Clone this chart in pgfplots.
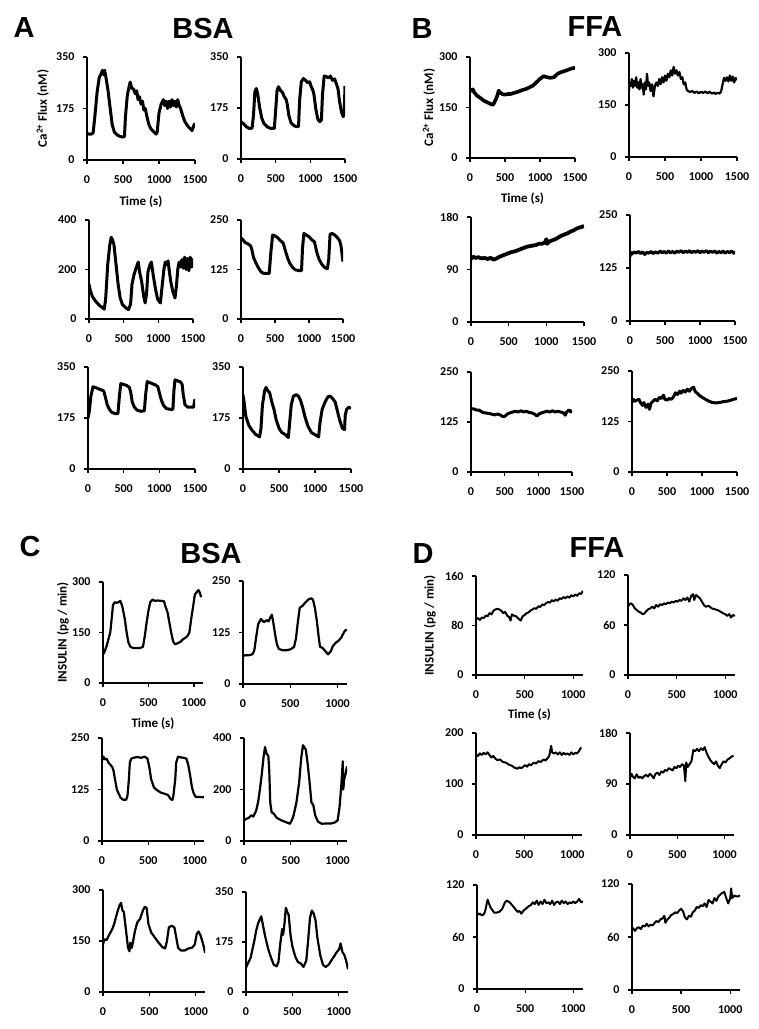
\documentclass[border=0pt]{standalone}
\usepackage{fontspec}
\usepackage{pgfplots}
\pgfplotsset{compat=1.18}
\setmainfont{Carlito}
\newfontfamily\arialf{Liberation Sans}
\newcommand\tickfont{\fontsize{12}{13}\selectfont\bfseries}
\newcommand\labfont{\fontsize{13}{15}\selectfont\bfseries}
\newcommand\bigfont{\fontsize{29}{32}\selectfont\arialf\bfseries}
\pgfplotsset{
 base/.style={
  scale only axis, anchor=south west, xmin=0, ymin=0,
  axis x line*=bottom, axis y line*=left,
  axis line style={black, line width=1.7pt},
  tick align=outside, major tick length=4pt,
  every tick/.style={black, line width=1.3pt},
  tick label style={font=\tickfont},
  xticklabel style={yshift=-8pt},
  yticklabel style={xshift=-5pt},
  scaled ticks=false,
  /pgf/number format/1000 sep={},
  /pgf/number format/assume math mode=true,
  xlabel style={font=\labfont, at={(axis description cs:0.5,-0.40)}, anchor=center},
 }
}
\def\lw{2.6pt}
% x0, x1, ytop, ybot, xmax, ymax, ymid, extra options, coordinates
\newcommand{\panel}[9]{%
 \pgfmathsetmacro{\pw}{#2-#1}\pgfmathsetmacro{\ph}{#4-#3}%
 \begin{axis}[base, at={(#1pt,-#4pt)}, width=\pw pt, height=\ph pt,
   xmax=#5, ymax=#6, xtick={0,500,...,#5}, ytick={0,#7,#6}, #8]
 \addplot[black, line width=\lw, line join=round] coordinates {#9};
 \end{axis}}
\begin{document}
\begin{tikzpicture}
\path[use as bounding box] (0pt,0pt) rectangle (759pt,-1029pt);
% titles
\node[font=\bigfont, anchor=base, inner sep=0] at (24pt,-37pt) {A};
\node[font=\bigfont, anchor=base, inner sep=0] at (203pt,-38pt) {BSA};
\node[font=\bigfont, anchor=base, inner sep=0] at (422pt,-38pt) {B};
\node[font=\bigfont, anchor=base, inner sep=0] at (595pt,-36pt) {FFA};
\node[font=\bigfont, anchor=base, inner sep=0] at (30pt,-556pt) {C};
\node[font=\bigfont, anchor=base, inner sep=0] at (211pt,-563pt) {BSA};
\node[font=\bigfont, anchor=base, inner sep=0] at (423pt,-563pt) {D};
\node[font=\bigfont, anchor=base, inner sep=0] at (597pt,-557pt) {FFA};

% ---------------- A ----------------
\def\lw{3pt}
\panel{87}{195}{57}{160}{1500}{350}{175}{xlabel={Time (s)}, ylabel={Ca\textsuperscript{2+} Flux (nM)}, ylabel style={font=\labfont, at={(axis description cs:-0.41,0.5)}, anchor=center}}
{(0,90)(30,88)(60,88)(85,92)(110,150)(140,230)(170,280)(200,295)(215,305)(230,290)(245,305)(260,285)(290,240)(320,180)(350,120)(380,95)(420,85)(460,80)(500,78)(520,80)(535,150)(560,220)(590,255)(600,265)(620,245)(650,240)(670,225)(690,235)(710,205)(730,215)(750,190)(770,200)(790,170)(810,175)(830,150)(860,120)(890,105)(930,95)(960,88)(975,95)(1000,160)(1030,190)(1060,205)(1080,185)(1100,200)(1120,175)(1140,200)(1160,180)(1180,205)(1200,185)(1220,200)(1240,180)(1260,205)(1280,185)(1300,175)(1330,150)(1360,130)(1400,115)(1440,105)(1460,100)(1480,115)(1500,125)}
\panel{241}{345}{57}{159}{1500}{350}{175}{}
{(0,128)(40,120)(80,110)(120,105)(160,106)(180,150)(200,230)(220,242)(240,225)(270,175)(300,140)(330,122)(380,110)(430,105)(480,105)(495,150)(520,235)(540,248)(570,235)(600,228)(620,215)(650,205)(665,190)(690,150)(720,125)(760,115)(800,111)(830,112)(845,200)(870,265)(900,276)(930,270)(960,262)(990,265)(1010,250)(1030,240)(1050,225)(1080,170)(1110,135)(1140,128)(1160,135)(1175,220)(1200,285)(1230,283)(1260,278)(1290,285)(1320,270)(1350,275)(1380,255)(1400,240)(1420,200)(1450,160)(1475,145)(1490,170)(1500,250)}
\panel{89}{193}{220}{319}{1500}{400}{200}{}
{(0,140)(20,115)(50,90)(100,70)(150,55)(200,45)(220,40)(240,80)(270,220)(300,300)(320,330)(340,320)(360,300)(390,220)(420,140)(450,85)(480,60)(530,45)(570,38)(600,60)(620,140)(650,180)(690,215)(710,230)(730,190)(760,150)(790,90)(810,65)(830,100)(850,190)(880,220)(900,230)(930,170)(960,120)(990,80)(1030,65)(1050,120)(1080,200)(1100,230)(1120,220)(1140,235)(1160,190)(1180,150)(1210,110)(1240,85)(1260,130)(1280,200)(1300,230)(1320,210)(1340,240)(1360,205)(1380,250)(1400,200)(1420,245)(1440,195)(1460,250)(1480,210)(1500,245)}
\panel{241}{343}{220}{319}{1500}{250}{125}{}
{(0,205)(30,200)(60,193)(100,190)(140,185)(160,175)(185,155)(210,145)(240,135)(260,128)(300,118)(340,115)(380,115)(415,115)(440,170)(465,212)(500,210)(540,205)(580,198)(620,192)(640,180)(660,168)(690,152)(720,140)(760,130)(800,124)(860,122)(890,122)(905,180)(925,216)(960,212)(1000,208)(1040,200)(1080,195)(1100,180)(1120,165)(1150,150)(1190,138)(1230,130)(1270,127)(1290,150)(1310,214)(1340,216)(1380,212)(1420,205)(1450,198)(1470,185)(1485,165)(1500,145)}
\panel{88}{195}{367}{469}{1500}{350}{175}{}
{(0,175)(20,200)(40,250)(70,282)(100,280)(140,276)(180,272)(220,268)(240,250)(270,220)(300,205)(330,195)(380,190)(420,190)(440,250)(460,293)(500,290)(540,287)(580,280)(600,262)(620,230)(650,212)(690,202)(740,198)(790,200)(810,260)(830,300)(870,296)(910,292)(950,288)(980,282)(1000,262)(1030,235)(1060,218)(1100,207)(1150,205)(1190,205)(1205,270)(1220,306)(1260,302)(1300,298)(1320,290)(1335,255)(1360,220)(1400,212)(1440,212)(1480,212)(1500,240)}
\panel{243}{351}{367}{469}{1500}{350}{175}{}
{(0,255)(15,230)(40,180)(80,150)(120,135)(170,120)(230,110)(250,140)(270,220)(300,268)(320,280)(340,270)(370,262)(400,230)(430,205)(460,170)(500,140)(540,125)(590,118)(630,108)(645,150)(670,220)(700,250)(740,255)(770,250)(800,235)(830,210)(860,180)(900,148)(950,125)(1000,118)(1050,110)(1070,160)(1100,205)(1140,230)(1180,248)(1210,250)(1250,240)(1280,230)(1310,200)(1340,170)(1380,140)(1410,135)(1420,185)(1440,205)(1470,212)(1500,208)}

% ---------------- B ----------------
\def\lw{3.6pt}
\panel{470}{575}{57}{158}{1500}{300}{150}{xlabel={Time (s)}, ylabel={Ca\textsuperscript{2+} Flux (nM)}, ylabel style={font=\labfont, at={(axis description cs:-0.39,0.5)}, anchor=center}}
{(0,205)(20,200)(40,204)(60,195)(100,185)(150,178)(200,170)(250,165)(300,160)(330,158)(360,170)(390,185)(410,200)(430,195)(460,190)(500,188)(540,190)(580,190)(620,193)(660,195)(700,198)(750,202)(800,205)(850,210)(900,215)(950,225)(1000,235)(1050,243)(1100,240)(1150,238)(1200,240)(1250,250)(1300,255)(1350,258)(1400,262)(1450,266)(1500,268)}
\def\lw{2.2pt}
\panel{629}{737}{53}{157}{1500}{300}{150}{}
{(0,190)(10,215)(25,205)(40,225)(55,200)(70,220)(85,205)(100,230)(115,200)(130,215)(145,195)(160,225)(175,200)(190,210)(205,180)(220,215)(235,195)(250,240)(265,205)(280,215)(300,190)(320,210)(340,175)(360,205)(380,215)(400,205)(420,225)(440,210)(460,230)(480,215)(500,235)(520,220)(540,240)(560,230)(580,250)(600,235)(620,260)(640,240)(660,250)(680,235)(700,245)(720,225)(740,230)(760,210)(780,215)(800,195)(820,190)(850,188)(880,190)(910,185)(940,189)(970,184)(1000,188)(1030,185)(1060,189)(1090,184)(1120,188)(1150,183)(1180,186)(1200,182)(1230,185)(1260,183)(1280,190)(1300,210)(1320,228)(1340,220)(1360,230)(1380,218)(1400,235)(1420,220)(1440,232)(1460,215)(1480,228)(1500,222)}
\def\lw{3.8pt}
\panel{471}{584}{217}{322}{1500}{180}{90}{}
{(0,108)(30,112)(60,110)(100,111)(140,109)(180,110)(220,108)(260,110)(300,107)(340,109)(380,112)(420,114)(460,116)(500,118)(540,120)(580,121)(620,123)(660,125)(700,127)(740,129)(780,130)(820,131)(860,132)(900,134)(940,134)(980,136)(1000,142)(1010,134)(1040,138)(1080,140)(1120,142)(1160,145)(1200,148)(1240,150)(1280,152)(1320,155)(1360,157)(1400,160)(1440,162)(1470,163)(1500,165)}
\def\lw{3pt}
\panel{630}{735}{215}{321}{1500}{250}{125}{}
{(0,152)(10,162)(30,158)(60,163)(90,160)(120,164)(150,159)(180,163)(210,157)(240,162)(270,160)(300,164)(330,159)(360,163)(400,160)(430,165)(460,161)(490,164)(520,160)(550,165)(580,161)(610,164)(640,160)(670,165)(700,162)(730,166)(760,161)(790,165)(820,162)(850,166)(880,161)(910,165)(940,162)(970,166)(1000,161)(1030,165)(1060,162)(1090,166)(1120,161)(1150,165)(1180,162)(1210,165)(1240,160)(1270,164)(1300,161)(1330,165)(1360,160)(1390,164)(1420,161)(1450,165)(1480,160)(1500,164)}
\def\lw{3pt}
\panel{471}{572}{372}{472}{1500}{250}{125}{}
{(0,158)(40,158)(80,155)(120,155)(160,150)(200,148)(240,147)(280,146)(320,144)(360,143)(400,145)(440,142)(480,138)(510,140)(540,145)(580,148)(620,150)(660,152)(700,150)(740,153)(780,150)(820,152)(860,149)(900,148)(940,145)(980,140)(1010,145)(1050,148)(1090,150)(1130,152)(1170,150)(1210,153)(1250,150)(1290,152)(1330,150)(1370,148)(1400,142)(1420,150)(1450,155)(1480,150)(1500,155)}
\panel{632}{737}{371}{472}{1500}{250}{125}{}
{(0,172)(20,180)(40,175)(70,178)(100,180)(120,172)(150,165)(170,172)(200,160)(230,168)(250,155)(270,170)(300,175)(330,180)(360,176)(390,185)(420,182)(450,190)(470,180)(500,178)(530,182)(560,180)(590,185)(620,196)(650,192)(680,200)(700,195)(730,202)(760,198)(790,205)(820,200)(850,207)(880,210)(900,200)(930,195)(960,190)(1000,185)(1050,180)(1100,175)(1150,172)(1200,171)(1250,172)(1300,174)(1350,175)(1400,177)(1450,180)(1500,182)}

% ---------------- C ----------------
\def\lw{2.2pt}
\panel{103}{203}{582}{683}{1100}{300}{150}{xlabel={Time (s)}, ylabel={INSULIN (pg / min)}, ylabel style={font=\labfont, at={(axis description cs:-0.40,0.5)}, anchor=center}}
{(0,84)(20,95)(40,110)(60,130)(80,150)(95,190)(110,232)(130,240)(150,238)(170,240)(190,244)(210,230)(225,210)(240,190)(260,150)(280,120)(300,108)(330,104)(370,104)(410,104)(440,108)(460,140)(480,180)(500,215)(520,240)(545,248)(570,244)(600,245)(640,244)(670,243)(690,225)(710,210)(730,180)(750,150)(770,125)(790,115)(820,118)(850,122)(880,130)(910,135)(930,140)(950,150)(970,190)(990,225)(1010,262)(1030,270)(1050,276)(1065,268)(1080,255)}
\panel{243}{347}{581}{684}{1100}{250}{125}{}
{(0,68)(30,70)(60,70)(100,72)(120,82)(140,115)(160,145)(190,158)(220,150)(250,155)(270,152)(290,162)(305,168)(320,150)(340,120)(360,95)(380,85)(420,82)(460,82)(500,84)(540,90)(560,110)(580,150)(600,185)(630,190)(660,198)(690,205)(720,208)(740,205)(760,185)(780,155)(800,115)(815,90)(840,88)(870,80)(900,72)(930,80)(950,92)(980,100)(1010,105)(1040,113)(1060,122)(1080,130)(1100,132)}
\panel{102}{204}{738}{841}{1100}{250}{125}{}
{(0,195)(15,205)(30,198)(50,200)(70,190)(90,185)(110,180)(125,170)(140,150)(160,125)(180,115)(200,105)(230,100)(260,100)(275,110)(290,150)(300,190)(315,200)(340,202)(380,204)(420,202)(460,205)(490,200)(510,180)(530,150)(560,130)(590,124)(630,118)(670,115)(710,112)(740,102)(760,100)(770,110)(790,150)(800,190)(820,205)(850,203)(880,202)(910,200)(930,185)(950,160)(970,130)(990,115)(1010,107)(1050,107)(1100,106)}
\panel{244}{347}{738}{841}{1100}{400}{200}{}
{(0,80)(20,85)(50,90)(80,100)(100,95)(130,118)(150,150)(170,200)(190,260)(210,330)(225,365)(240,340)(260,330)(270,270)(280,150)(295,112)(320,105)(350,90)(400,80)(450,73)(490,67)(510,80)(530,100)(560,150)(590,230)(610,320)(630,372)(660,355)(680,300)(700,230)(720,150)(740,140)(760,100)(790,75)(830,67)(880,68)(930,68)(970,72)(1000,80)(1020,130)(1040,220)(1055,310)(1060,200)(1070,240)(1085,260)(1100,290)}
\panel{103}{205}{890}{992}{1100}{300}{150}{}
{(0,140)(15,155)(40,153)(60,165)(80,175)(100,185)(120,200)(140,220)(160,240)(180,256)(195,262)(210,240)(225,235)(240,200)(255,165)(270,130)(285,120)(295,145)(310,130)(325,150)(345,180)(370,205)(400,215)(430,240)(450,250)(470,248)(490,200)(520,175)(560,160)(600,145)(640,132)(670,128)(690,150)(710,190)(740,195)(770,190)(790,160)(810,130)(840,122)(880,122)(920,128)(960,130)(990,140)(1010,170)(1030,178)(1050,168)(1070,150)(1090,130)(1100,115)}
\panel{246}{348}{892}{992}{1100}{350}{175}{}
{(0,85)(20,100)(50,120)(70,150)(90,180)(110,215)(130,240)(150,255)(165,265)(185,230)(210,190)(240,150)(270,120)(300,95)(330,90)(350,105)(370,170)(390,220)(400,200)(415,240)(430,295)(445,280)(460,270)(480,200)(500,160)(530,125)(560,105)(590,100)(620,88)(650,110)(670,180)(690,260)(710,285)(730,275)(750,250)(770,190)(800,130)(830,95)(860,88)(890,95)(920,110)(950,125)(980,140)(1005,150)(1020,170)(1040,140)(1060,130)(1080,110)(1100,80)}

% ---------------- D ----------------
\def\lw{2pt}
\panel{476}{583}{576}{675}{1100}{160}{80}{xlabel={Time (s)}, ylabel={INSULIN (pg / min)}, ylabel style={font=\labfont, at={(axis description cs:-0.43,0.5)}, anchor=center}}
{(0,90)(20,92)(40,89)(60,93)(80,92)(100,96)(120,95)(140,100)(160,98)(180,104)(200,106)(220,107)(240,106)(260,104)(280,100)(300,102)(320,96)(340,94)(355,88)(370,98)(390,96)(410,95)(430,92)(460,88)(480,95)(500,97)(520,100)(540,101)(560,104)(580,106)(600,108)(620,107)(640,111)(660,110)(680,114)(700,113)(720,116)(740,118)(760,117)(780,121)(800,119)(820,122)(840,120)(860,124)(880,123)(900,126)(920,124)(940,127)(960,125)(980,129)(1000,127)(1020,130)(1040,128)(1060,132)(1080,131)(1100,136)}
\panel{628}{735}{575}{675}{1100}{120}{60}{}
{(0,82)(15,85)(30,86)(50,84)(70,80)(90,78)(110,76)(130,75)(150,73)(170,74)(190,77)(210,79)(230,80)(250,82)(270,80)(290,84)(310,82)(330,85)(350,84)(370,86)(390,85)(410,87)(430,86)(450,88)(470,87)(490,89)(510,88)(530,90)(550,89)(570,92)(590,90)(610,93)(630,88)(650,95)(670,97)(680,90)(700,96)(720,94)(740,92)(760,88)(780,84)(800,82)(830,83)(860,80)(890,79)(920,78)(950,76)(980,74)(1000,73)(1020,71)(1040,73)(1060,69)(1080,72)(1100,71)}
\panel{476}{582}{733}{835}{1100}{200}{100}{}
{(0,158)(20,155)(40,160)(60,157)(80,161)(100,158)(120,162)(140,157)(160,152)(180,155)(200,150)(220,147)(250,148)(280,143)(310,142)(340,138)(370,136)(400,132)(430,130)(450,133)(470,131)(490,134)(510,137)(530,134)(550,139)(570,137)(600,142)(620,140)(650,145)(670,143)(700,148)(720,146)(740,150)(760,155)(780,175)(790,162)(810,160)(830,162)(850,158)(870,162)(890,157)(910,161)(930,158)(950,160)(970,157)(990,162)(1010,158)(1030,161)(1050,160)(1070,165)(1090,172)}
\panel{630}{734}{733}{835}{1100}{180}{90}{}
{(0,100)(15,108)(30,103)(50,100)(70,107)(90,101)(110,103)(130,100)(150,104)(170,106)(190,103)(210,108)(230,105)(250,100)(270,108)(290,110)(310,106)(330,112)(350,110)(370,115)(390,113)(410,118)(430,116)(450,114)(470,120)(490,118)(510,122)(530,120)(550,125)(570,123)(585,95)(595,128)(610,120)(630,125)(650,130)(670,150)(690,148)(710,152)(730,148)(750,153)(770,150)(790,155)(810,145)(830,138)(850,132)(870,128)(890,125)(910,130)(930,122)(950,118)(970,125)(990,130)(1010,128)(1030,133)(1050,135)(1070,138)(1095,140)}
\panel{477}{583}{885}{989}{1100}{120}{60}{}
{(0,88)(15,86)(30,87)(50,85)(70,86)(85,90)(100,98)(110,103)(120,100)(140,94)(160,91)(180,88)(200,88)(230,89)(260,92)(290,100)(310,102)(340,100)(370,96)(400,92)(420,89)(440,90)(460,87)(480,90)(500,92)(530,95)(560,97)(580,100)(600,98)(620,102)(640,97)(660,101)(680,98)(700,103)(720,99)(740,100)(760,98)(780,102)(800,97)(820,100)(840,101)(860,98)(880,102)(900,99)(920,101)(940,98)(960,100)(980,99)(1000,101)(1020,99)(1040,101)(1060,104)(1080,100)(1100,101)}
\panel{632}{740}{884}{990}{1100}{120}{60}{}
{(0,68)(10,70)(30,67)(50,70)(70,71)(90,69)(110,73)(130,72)(150,75)(170,72)(190,74)(210,73)(230,76)(250,78)(270,77)(290,80)(310,81)(330,84)(340,76)(360,80)(380,82)(400,85)(420,86)(440,88)(460,87)(480,90)(500,92)(520,89)(540,82)(560,80)(580,84)(600,83)(620,88)(640,90)(660,94)(680,93)(700,96)(720,95)(740,98)(760,94)(780,102)(800,100)(820,98)(840,104)(860,101)(880,106)(900,108)(920,110)(940,111)(960,104)(980,98)(1000,104)(1010,115)(1020,104)(1040,107)(1060,106)(1080,106)(1100,107)}
\end{tikzpicture}
\end{document}
